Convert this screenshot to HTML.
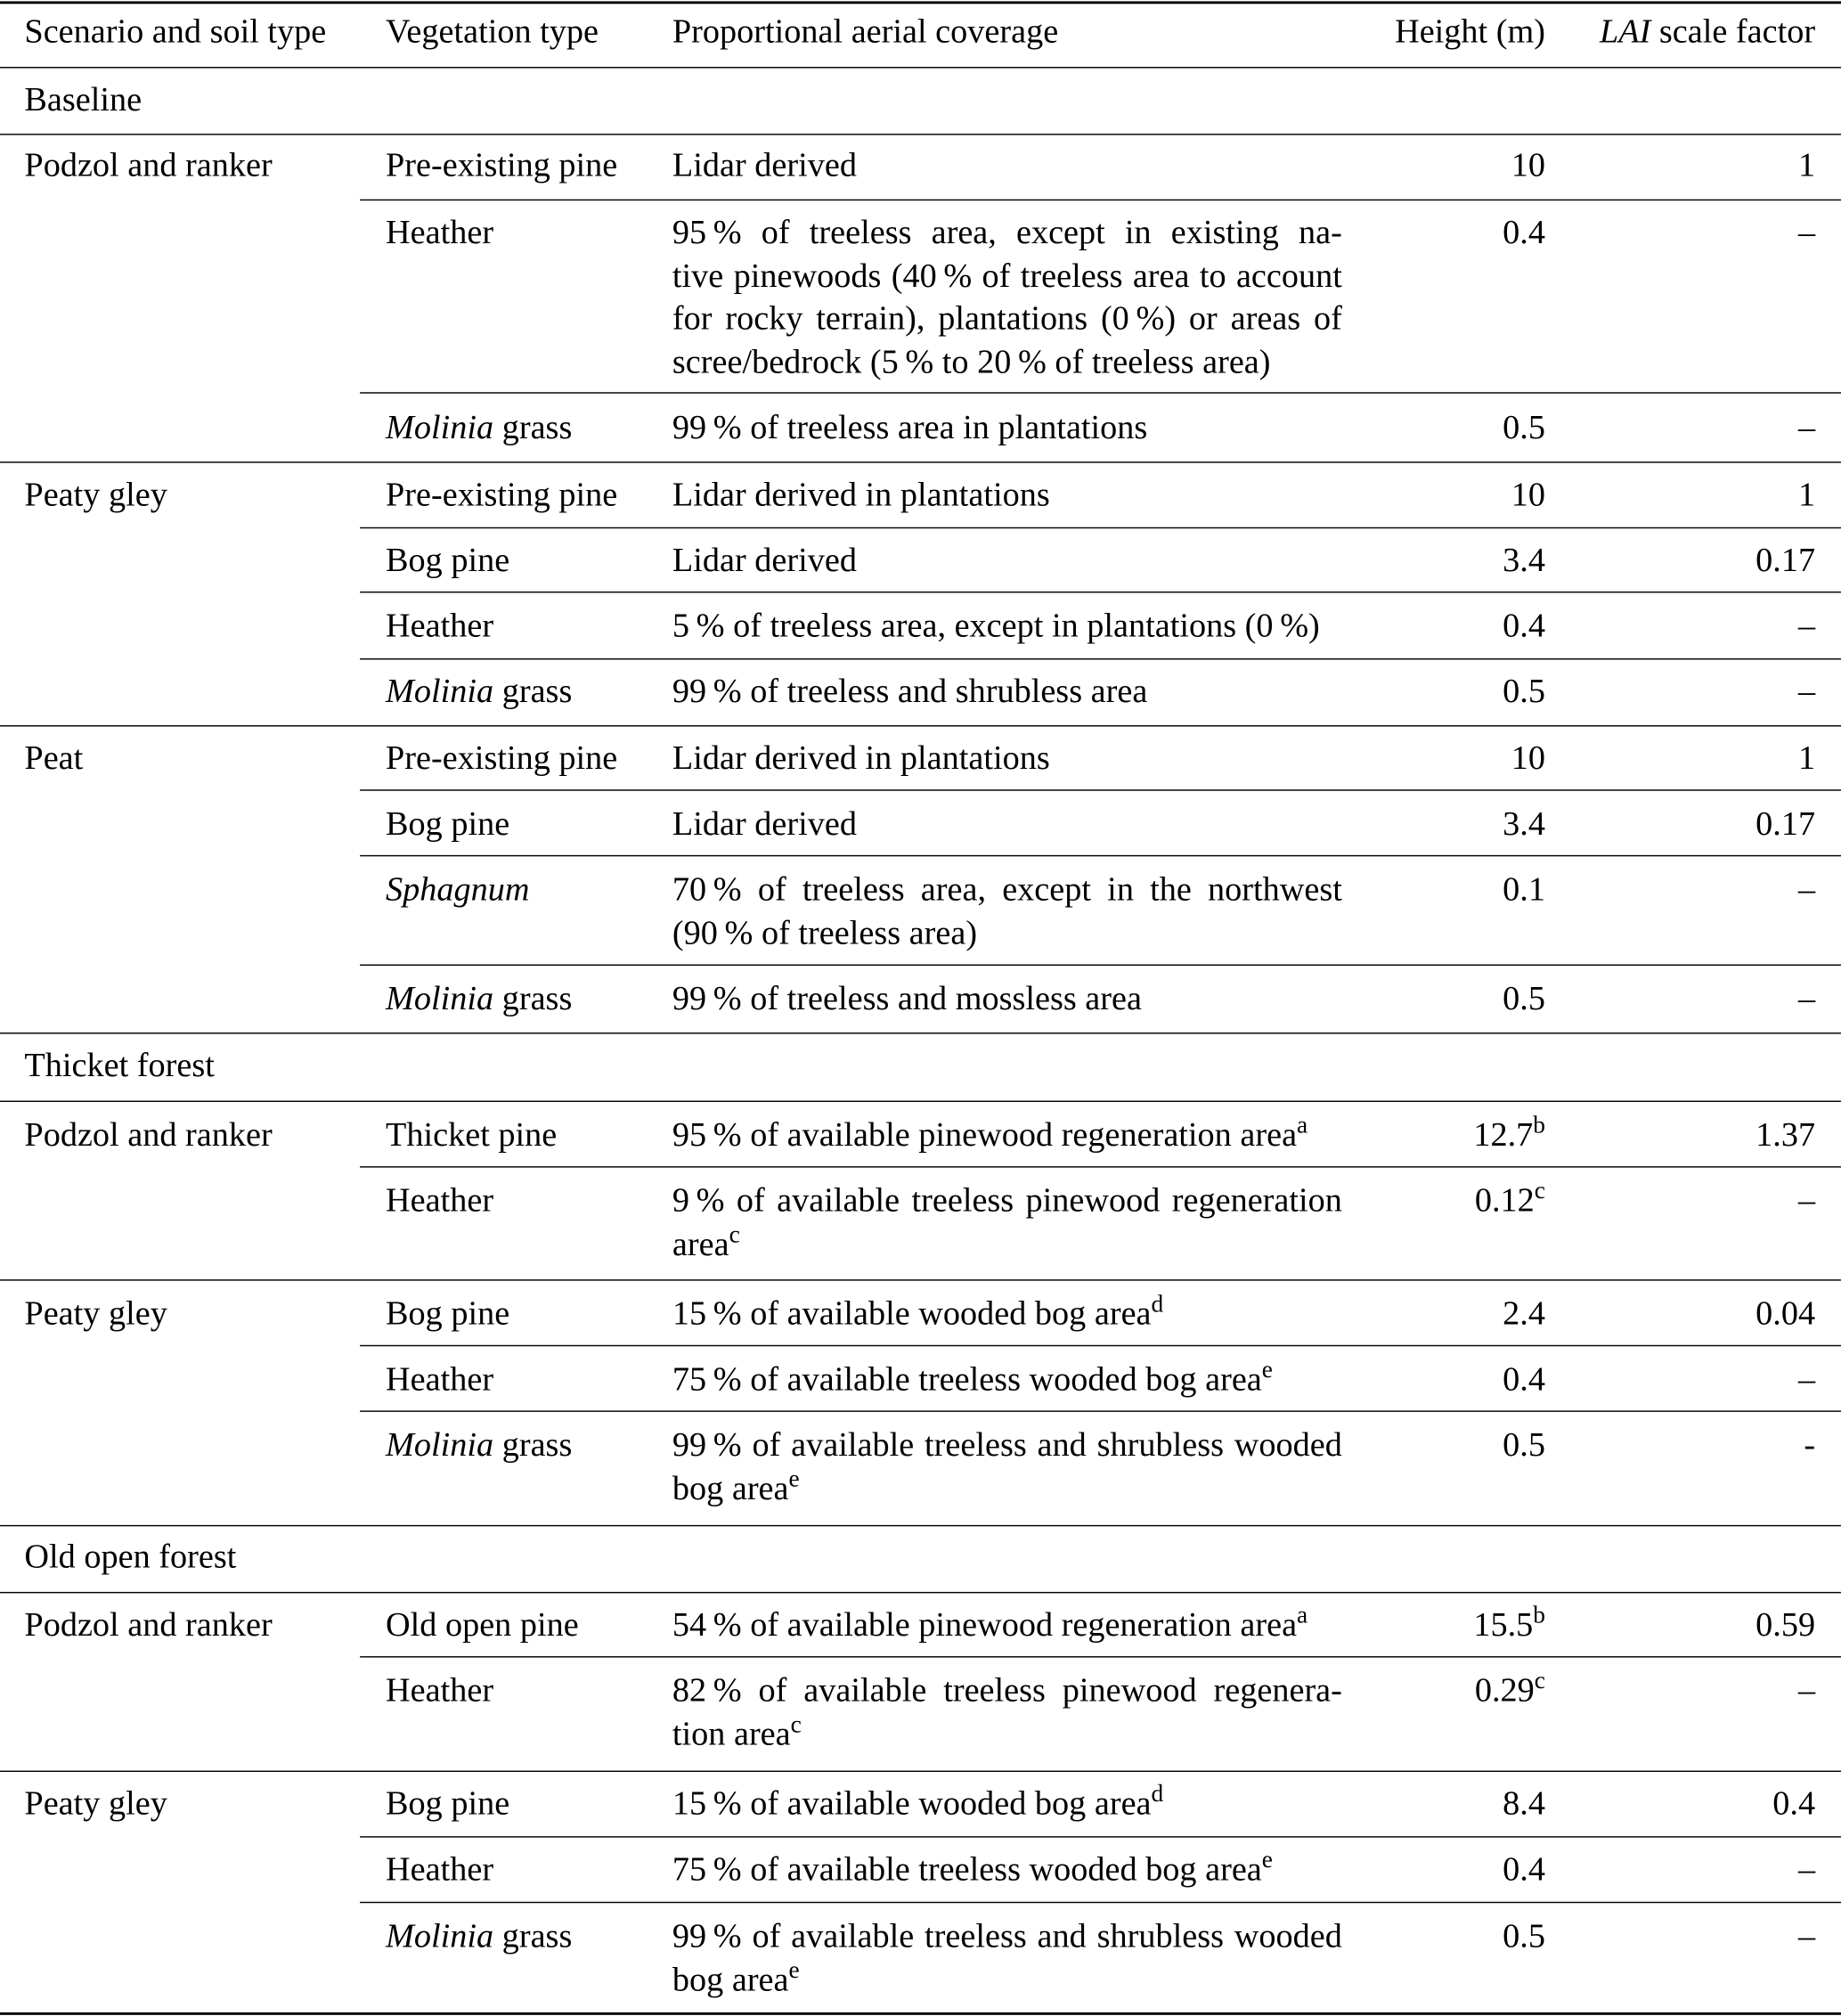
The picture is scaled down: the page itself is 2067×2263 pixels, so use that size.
<!DOCTYPE html>
<html><head><meta charset="utf-8"><style>
html,body{margin:0;padding:0;background:#fff;width:2067px;height:2263px;overflow:hidden}
#w{position:absolute;left:0;top:0;width:1432px;height:1568px;transform:scale(1.4434);transform-origin:0 0;font-family:"Liberation Serif",serif;font-size:26.5px;color:#000}
.t{position:absolute;white-space:nowrap;line-height:33.5px}
.l{position:absolute;height:1.3px;background:#000;right:0}
.f{left:0}.p{left:280px}
.c3{position:absolute;left:523px;width:521px;line-height:33.5px;white-space:nowrap}
.c3 .j{text-align:justify;text-align-last:justify}
.r4{position:absolute;right:230px;line-height:33.5px}
.r5{position:absolute;right:20px;line-height:33.5px}
sup{font-size:19px;line-height:0;vertical-align:10px}
i{font-style:italic}
</style></head><body><div id="w">
<div class="l f" style="top:1px;height:2px"></div>
<div class="t" style="left:19px;top:8px">Scenario and soil type</div>
<div class="t" style="left:300px;top:8px">Vegetation type</div>
<div class="t" style="left:523px;top:8px">Proportional aerial coverage</div>
<div class="r4" style="top:8px">Height (m)</div>
<div class="r5" style="top:8px"><i>LAI</i> scale factor</div>
<div class="l f" style="top:52px"></div>
<div class="t" style="left:19px;top:61px">Baseline</div>
<div class="l f" style="top:104px"></div>

<div class="t" style="left:19px;top:112px">Podzol and ranker</div>
<div class="t" style="left:300px;top:112px">Pre-existing pine</div>
<div class="c3" style="top:112px">Lidar derived</div>
<div class="r4" style="top:112px">10</div><div class="r5" style="top:112px">1</div>
<div class="l p" style="top:155px"></div>
<div class="t" style="left:300px;top:164px">Heather</div>
<div class="c3" style="top:164px"><div class="j">95&#8201;% of treeless area, except in existing na-</div><div class="j">tive pinewoods (40&#8201;% of treeless area to account</div><div class="j">for rocky terrain), plantations (0&#8201;%) or areas of</div><div>scree/bedrock (5&#8201;% to 20&#8201;% of treeless area)</div></div>
<div class="r4" style="top:164px">0.4</div><div class="r5" style="top:164px">–</div>
<div class="l p" style="top:305px"></div>
<div class="t" style="left:300px;top:316px"><i>Molinia</i> grass</div>
<div class="c3" style="top:316px">99&#8201;% of treeless area in plantations</div>
<div class="r4" style="top:316px">0.5</div><div class="r5" style="top:316px">–</div>
<div class="l f" style="top:359px"></div>

<div class="t" style="left:19px;top:368px">Peaty gley</div>
<div class="t" style="left:300px;top:368px">Pre-existing pine</div>
<div class="c3" style="top:368px">Lidar derived in plantations</div>
<div class="r4" style="top:368px">10</div><div class="r5" style="top:368px">1</div>
<div class="l p" style="top:410px"></div>
<div class="t" style="left:300px;top:419px">Bog pine</div>
<div class="c3" style="top:419px">Lidar derived</div>
<div class="r4" style="top:419px">3.4</div><div class="r5" style="top:419px">0.17</div>
<div class="l p" style="top:460px"></div>
<div class="t" style="left:300px;top:470px">Heather</div>
<div class="c3" style="top:470px">5&#8201;% of treeless area, except in plantations (0&#8201;%)</div>
<div class="r4" style="top:470px">0.4</div><div class="r5" style="top:470px">–</div>
<div class="l p" style="top:512px"></div>
<div class="t" style="left:300px;top:521px"><i>Molinia</i> grass</div>
<div class="c3" style="top:521px">99&#8201;% of treeless and shrubless area</div>
<div class="r4" style="top:521px">0.5</div><div class="r5" style="top:521px">–</div>
<div class="l f" style="top:564px"></div>

<div class="t" style="left:19px;top:573px">Peat</div>
<div class="t" style="left:300px;top:573px">Pre-existing pine</div>
<div class="c3" style="top:573px">Lidar derived in plantations</div>
<div class="r4" style="top:573px">10</div><div class="r5" style="top:573px">1</div>
<div class="l p" style="top:614px"></div>
<div class="t" style="left:300px;top:624px">Bog pine</div>
<div class="c3" style="top:624px">Lidar derived</div>
<div class="r4" style="top:624px">3.4</div><div class="r5" style="top:624px">0.17</div>
<div class="l p" style="top:665px"></div>
<div class="t" style="left:300px;top:675px"><i>Sphagnum</i></div>
<div class="c3" style="top:675px"><div class="j">70&#8201;% of treeless area, except in the northwest</div><div>(90&#8201;% of treeless area)</div></div>
<div class="r4" style="top:675px">0.1</div><div class="r5" style="top:675px">–</div>
<div class="l p" style="top:750px"></div>
<div class="t" style="left:300px;top:760px"><i>Molinia</i> grass</div>
<div class="c3" style="top:760px">99&#8201;% of treeless and mossless area</div>
<div class="r4" style="top:760px">0.5</div><div class="r5" style="top:760px">–</div>
<div class="l f" style="top:803px"></div>

<div class="t" style="left:19px;top:812px">Thicket forest</div>
<div class="l f" style="top:856px"></div>
<div class="t" style="left:19px;top:866px">Podzol and ranker</div>
<div class="t" style="left:300px;top:866px">Thicket pine</div>
<div class="c3" style="top:866px">95&#8201;% of available pinewood regeneration area<sup>a</sup></div>
<div class="r4" style="top:866px">12.7<sup>b</sup></div><div class="r5" style="top:866px">1.37</div>
<div class="l p" style="top:907px"></div>
<div class="t" style="left:300px;top:917px">Heather</div>
<div class="c3" style="top:917px"><div class="j">9&#8201;% of available treeless pinewood regeneration</div><div>area<sup>c</sup></div></div>
<div class="r4" style="top:917px">0.12<sup>c</sup></div><div class="r5" style="top:917px">–</div>
<div class="l f" style="top:995px"></div>

<div class="t" style="left:19px;top:1005px">Peaty gley</div>
<div class="t" style="left:300px;top:1005px">Bog pine</div>
<div class="c3" style="top:1005px">15&#8201;% of available wooded bog area<sup>d</sup></div>
<div class="r4" style="top:1005px">2.4</div><div class="r5" style="top:1005px">0.04</div>
<div class="l p" style="top:1046px"></div>
<div class="t" style="left:300px;top:1056px">Heather</div>
<div class="c3" style="top:1056px">75&#8201;% of available treeless wooded bog area<sup>e</sup></div>
<div class="r4" style="top:1056px">0.4</div><div class="r5" style="top:1056px">–</div>
<div class="l p" style="top:1097px"></div>
<div class="t" style="left:300px;top:1107px"><i>Molinia</i> grass</div>
<div class="c3" style="top:1107px"><div class="j">99&#8201;% of available treeless and shrubless wooded</div><div>bog area<sup>e</sup></div></div>
<div class="r4" style="top:1107px">0.5</div><div class="r5" style="top:1107px">-</div>
<div class="l f" style="top:1186px"></div>

<div class="t" style="left:19px;top:1194px">Old open forest</div>
<div class="l f" style="top:1238px"></div>
<div class="t" style="left:19px;top:1247px">Podzol and ranker</div>
<div class="t" style="left:300px;top:1247px">Old open pine</div>
<div class="c3" style="top:1247px">54&#8201;% of available pinewood regeneration area<sup>a</sup></div>
<div class="r4" style="top:1247px">15.5<sup>b</sup></div><div class="r5" style="top:1247px">0.59</div>
<div class="l p" style="top:1288px"></div>
<div class="t" style="left:300px;top:1298px">Heather</div>
<div class="c3" style="top:1298px"><div class="j">82&#8201;% of available treeless pinewood regenera-</div><div>tion area<sup>c</sup></div></div>
<div class="r4" style="top:1298px">0.29<sup>c</sup></div><div class="r5" style="top:1298px">–</div>
<div class="l f" style="top:1377px"></div>

<div class="t" style="left:19px;top:1386px">Peaty gley</div>
<div class="t" style="left:300px;top:1386px">Bog pine</div>
<div class="c3" style="top:1386px">15&#8201;% of available wooded bog area<sup>d</sup></div>
<div class="r4" style="top:1386px">8.4</div><div class="r5" style="top:1386px">0.4</div>
<div class="l p" style="top:1428px"></div>
<div class="t" style="left:300px;top:1437px">Heather</div>
<div class="c3" style="top:1437px">75&#8201;% of available treeless wooded bog area<sup>e</sup></div>
<div class="r4" style="top:1437px">0.4</div><div class="r5" style="top:1437px">–</div>
<div class="l p" style="top:1479px"></div>
<div class="t" style="left:300px;top:1489px"><i>Molinia</i> grass</div>
<div class="c3" style="top:1489px"><div class="j">99&#8201;% of available treeless and shrubless wooded</div><div>bog area<sup>e</sup></div></div>
<div class="r4" style="top:1489px">0.5</div><div class="r5" style="top:1489px">–</div>
<div class="l f" style="top:1565px;height:2px"></div>
</div></body></html>
